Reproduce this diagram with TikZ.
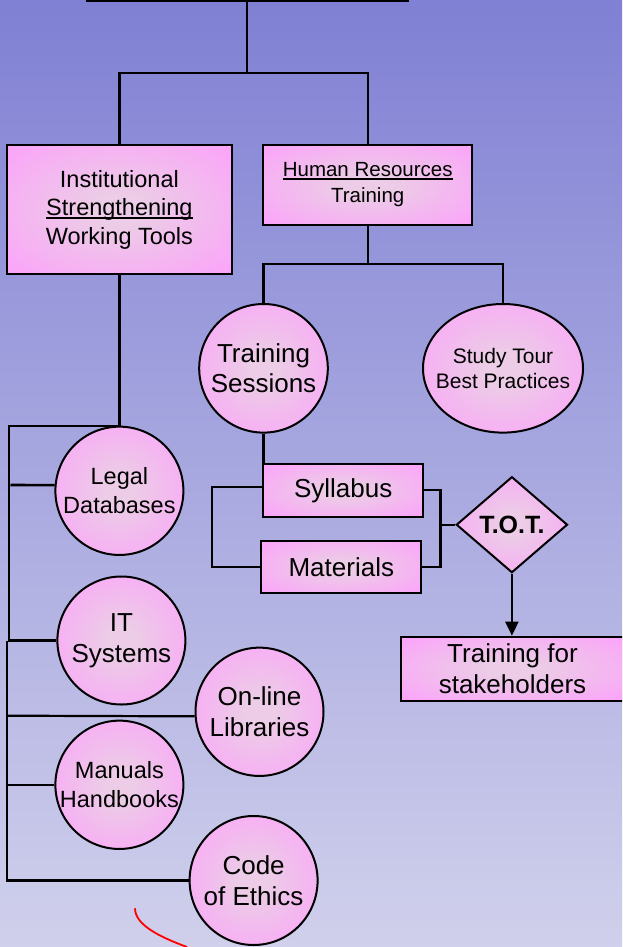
\documentclass[tikz,border=0pt]{standalone}
\usepackage{fontspec}
\setmainfont{Liberation Sans}
\usetikzlibrary{shapes.geometric,arrows.meta}
\definecolor{bgtop}{RGB}{128,128,212}
\definecolor{bgbot}{RGB}{208,208,236}
\definecolor{nodein}{RGB}{236,204,230}
\definecolor{nodeout}{RGB}{255,153,255}
\pgfdeclareradialshading{nodeshade}{\pgfpoint{0bp}{0bp}}{color(0bp)=(nodein); color(6bp)=(nodein); color(42bp)=(nodeout); color(75bp)=(nodeout)}
\newcommand\myuline[1]{\setbox0\hbox{#1}\rlap{\rule[-0.13em]{\wd0}{0.07em}}\box0}
\begin{document}
\begin{tikzpicture}[x=1pt,y=-1pt,
  box/.style={draw=black, line width=2pt, shade, shading=nodeshade, rectangle, inner sep=0pt, align=center},
  ell/.style={draw=black, line width=2pt, shade, shading=nodeshade, ellipse, inner sep=-25pt, align=center},
  dia/.style={draw=black, line width=2pt, shade, shading=nodeshade, diamond, inner sep=0pt, align=center},
  conn/.style={draw=black, line width=2.2pt},
  fa/.style={font=\fontsize{26}{30.6}\selectfont},
  fb/.style={font=\fontsize{23.5}{28.5}\selectfont},
  fc/.style={font=\fontsize{20.5}{26}\selectfont},
  fd/.style={font=\fontsize{21}{25}\selectfont}]
\useasboundingbox (0,0) rectangle (622,947);
\clip (0,0) rectangle (622,947);
\shade[top color=bgtop,bottom color=bgbot] (0,0) rectangle (622,947);

% nodes
\node[box, minimum width=321.3pt, minimum height=64pt] (top) at (247.3,-31) {};
\node[box, fb, minimum width=224.6pt, minimum height=129.3pt] (inst) at (119.4,209.7) {Institutional\\\myuline{Strengthening}\\Working Tools};
\node[box, fc, minimum width=209pt, minimum height=80pt] (hr) at (367.7,185) {\myuline{Human Resources}\\Training};
\node[ell, fa, minimum width=128.6pt, minimum height=128.6pt] (ts) at (263.5,368.3) {Training\\Sessions};
\node[ell, fd, minimum width=160pt, minimum height=128.6pt] (st) at (503,368.3) {Study Tour\\Best Practices};
\node[ell, fb, minimum width=128pt, minimum height=128.3pt] (legal) at (119.4,490.8) {Legal\\Databases};
\node[box, fa, minimum width=160.4pt, minimum height=52.7pt] (syl) at (343.2,490.3) {Syllabus};
\node[box, fa, minimum width=160.3pt, minimum height=52.6pt] (mat) at (341.3,567) {Materials};
\node[dia, minimum width=111.2pt, minimum height=96pt, font=\bfseries\fontsize{25}{30}\selectfont] (tot) at (511.9,524.7) {T.O.T.};
\node[box, fa, minimum width=223pt, minimum height=64pt] (tfs) at (512.5,668.7) {Training for\\stakeholders};
\node[ell, fa, minimum width=128pt, minimum height=128pt] (it) at (121.4,640.5) {IT\\Systems};
\node[ell, fa, minimum width=128pt, minimum height=128.3pt] (onl) at (259.5,711.8) {On-line\\Libraries};
\node[ell, fb, minimum width=128pt, minimum height=128.3pt] (man) at (119.4,784.8) {Manuals\\Handbooks};
\node[ell, fa, minimum width=128pt, minimum height=129pt] (code) at (253.6,880.5) {Code\\of Ethics};

% connectors
\coordinate (j1) at (247.3,72.7);
\draw[conn] (top.south) -- (j1);
\draw[conn] (inst.north) |- (j1) -| (hr.north);
\coordinate (j2) at (367.7,264.3);
\draw[conn] (hr.south) -- (j2);
\draw[conn] (ts.north) |- (j2) -| (st.north);
\coordinate (b1) at (8.7,425.7);
\coordinate (b2) at (8.7,640.5);
\draw[conn] (inst.south) |- (b1) -- (b2) -- (it.west);
\coordinate (l1) at (10.5,485);
\draw[conn, line width=2.6pt] (l1) -- (legal.175);
\coordinate (c1) at (7.1,640.5);
\coordinate (c2) at (7.1,880.5);
\draw[conn] (c1) -- (c2) -- (code.west);
\coordinate (c3) at (7.1,715.7);
\draw[conn] (c3) -- (onl.184);
\coordinate (c4) at (7.1,784.8);
\draw[conn] (c4) -- (man.west);
\draw[conn] (ts.south) -- (ts.south |- syl.north);
\draw[conn] ([yshift=3.6pt]syl.west) -- ++(-50,0) |- (mat.west);
\draw[conn] (syl.east) -- ++(16,0) |- (mat.east);
\coordinate (r1) at (439.4,524.7);
\draw[conn] (r1) -- (tot.west);
\draw[conn, -{Triangle[width=13pt,length=14pt]}] (tot.south) -- (tot.south |- tfs.north);

% red stroke
\draw[red, line width=1.8pt] (135,908.3) .. controls (135,925) and (160,937) .. (187,947);
\end{tikzpicture}
\end{document}
